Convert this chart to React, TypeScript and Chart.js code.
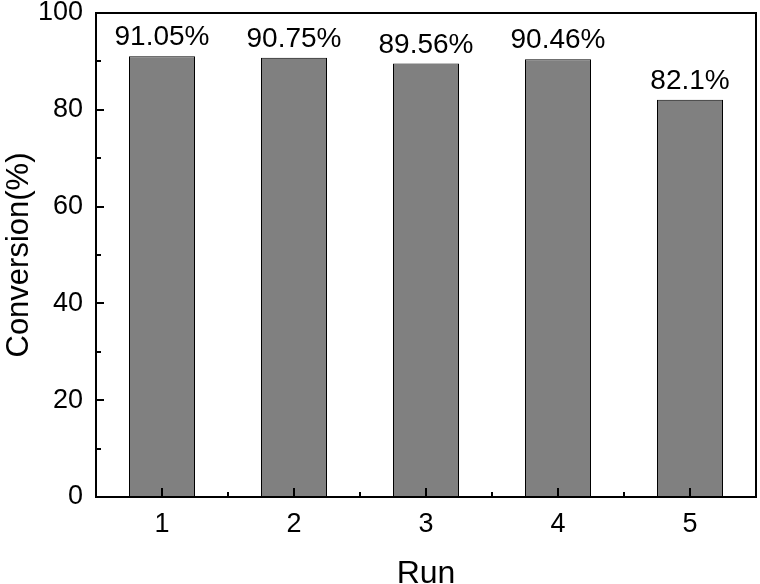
import React, { useEffect, useRef } from "react";
import { Chart, registerables } from "chart.js";

Chart.register(...registerables);

const categories = ["1", "2", "3", "4", "5"];
const conversion = [91.05, 90.75, 89.56, 90.46, 82.1];
const valueLabels = ["91.05%", "90.75%", "89.56%", "90.46%", "82.1%"];
const yMajorTicks = [0, 20, 40, 60, 80, 100];
const yMinorTicks = [10, 30, 50, 70, 90];

const FONT = "'Liberation Sans', Arial, Helvetica, sans-serif";

const framePlugin = {
  id: "frameTicks",
  afterDatasetsDraw(chart: any) {
    const { ctx, chartArea } = chart;
    const { left, right, top, bottom } = chartArea;
    const y = chart.scales.y;
    const x = chart.scales.x;
    ctx.save();
    // data labels
    ctx.fillStyle = "#000";
    ctx.font = `28px ${FONT}`;
    ctx.textAlign = "center";
    ctx.textBaseline = "alphabetic";
    const meta = chart.getDatasetMeta(0);
    meta.data.forEach((bar: any, i: number) => {
      ctx.fillText(valueLabels[i], bar.x, bar.y - 11);
    });
    // frame
    ctx.strokeStyle = "#000";
    ctx.lineWidth = 2;
    ctx.strokeRect(left, top, right - left, bottom - top);
    // y ticks
    ctx.beginPath();
    yMajorTicks.forEach((v) => {
      const py = Math.round(y.getPixelForValue(v));
      ctx.moveTo(left, py);
      ctx.lineTo(left + 8, py);
    });
    yMinorTicks.forEach((v) => {
      const py = Math.round(y.getPixelForValue(v));
      ctx.moveTo(left, py);
      ctx.lineTo(left + 5, py);
    });
    // x ticks
    categories.forEach((_, i) => {
      const px = Math.round(x.getPixelForValue(i));
      ctx.moveTo(px, bottom);
      ctx.lineTo(px, bottom - 9);
      if (i > 0) {
        const mx = Math.round((x.getPixelForValue(i - 1) + x.getPixelForValue(i)) / 2);
        ctx.moveTo(mx, bottom);
        ctx.lineTo(mx, bottom - 5);
      }
    });
    ctx.stroke();
    ctx.restore();
  },
};

export default function App() {
  const ref = useRef<HTMLCanvasElement | null>(null);
  useEffect(() => {
    if (!ref.current) return;
    const chart = new Chart(ref.current, {
      type: "bar",
      data: {
        labels: categories,
        datasets: [
          {
            data: conversion,
            backgroundColor: "#808080",
            borderColor: "#000",
            borderWidth: 1,
            barPercentage: 0.5,
            categoryPercentage: 1,
          },
        ],
      },
      options: {
        responsive: false,
        animation: false,
        layout: { padding: { top: 13, right: 4, left: 0, bottom: 0 } },
        plugins: { legend: { display: false }, tooltip: { enabled: false } },
        scales: {
          x: {
            type: "category",
            offset: true,
            grid: { display: false, drawTicks: false },
            border: { display: false },
            ticks: { color: "#000", font: { family: FONT, size: 27 }, padding: 11 },
            title: {
              display: true,
              text: "Run",
              color: "#000",
              font: { family: FONT, size: 32 },
              padding: { top: -9, bottom: -9 },
            },
            afterFit: (s: any) => {
              s.height = 87;
              s.paddingLeft = 0;
              s.paddingRight = 0;
            },
          },
          y: {
            min: 0,
            max: 100,
            grid: { display: false, drawTicks: false },
            border: { display: false },
            ticks: { stepSize: 20, color: "#000", font: { family: FONT, size: 27 }, padding: 13 },
            title: {
              display: true,
              text: "Conversion(%)",
              color: "#000",
              font: { family: FONT, size: 31 },
              padding: { top: 1, bottom: 1 },
            },
            afterFit: (s: any) => {
              s.width = 96;
              s.paddingTop = 0;
              s.paddingBottom = 0;
            },
          },
        },
      },
      plugins: [framePlugin],
    });
    return () => chart.destroy();
  }, []);
  return (
    <div style={{ position: "fixed", left: 0, top: 0, width: 760, height: 584, background: "#fff" }}>
      <canvas ref={ref} width={760} height={584} style={{ display: "block" }} />
    </div>
  );
}
